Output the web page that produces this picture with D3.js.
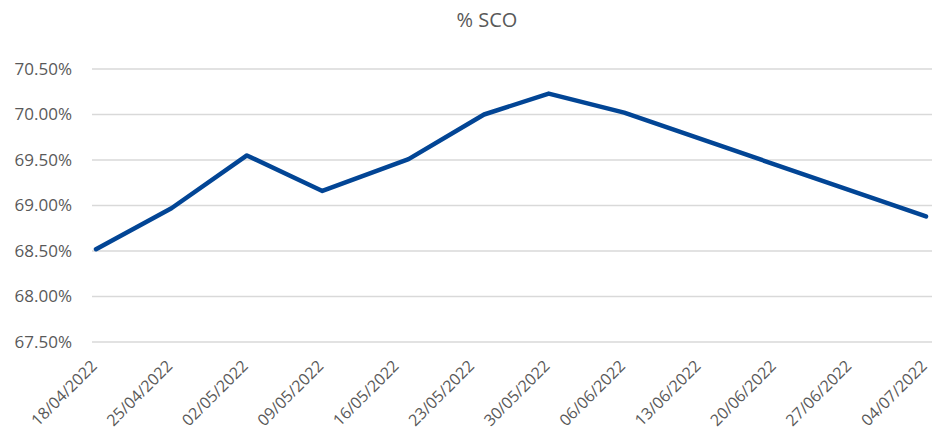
<!DOCTYPE html>
<html>
<head>
<meta charset="utf-8">
<script src="https://cdn.jsdelivr.net/npm/d3@7"></script>
<style>
  body { margin: 0; background: #fff; }
  text { font-family: "Open Sans", sans-serif; fill: #595959; }
</style>
</head>
<body>
<svg class="chart-svg"></svg>
<script>
// data (line has kinks on these dates)
const dates = ['18/04/2022', '25/04/2022', '02/05/2022', '09/05/2022', '17/05/2022',
  '24/05/2022', '30/05/2022', '06/06/2022', '04/07/2022'];
const sco = [68.52, 68.97, 69.55, 69.16, 69.51, 70.00, 70.23, 70.02, 68.88];

// axis labels
const tickDates = ['18/04/2022', '25/04/2022', '02/05/2022', '09/05/2022', '16/05/2022',
  '23/05/2022', '30/05/2022', '06/06/2022', '13/06/2022', '20/06/2022', '27/06/2022', '04/07/2022'];
const yTicks = [67.5, 68, 68.5, 69, 69.5, 70, 70.5];

const width = 932, height = 441;
const parse = d3.timeParse('%d/%m/%Y');
const fmt = d3.timeFormat('%d/%m/%Y');

const svg = d3.select('.chart-svg')
  .attr('width', width)
  .attr('height', height);

const x = d3.scaleTime()
  .domain([parse(tickDates[0]), parse(tickDates[tickDates.length - 1])])
  .range([96, 926]);

const y = d3.scaleLinear()
  .domain([67.5, 70.5])
  .range([342, 69]);

// title
svg.append('text')
  .attr('x', 487)
  .attr('y', 27)
  .attr('text-anchor', 'middle')
  .style('font-size', '20px')
  .text('% SCO');

// gridlines
svg.append('g')
  .selectAll('line')
  .data(yTicks)
  .enter()
  .append('line')
  .attr('x1', 92)
  .attr('x2', width)
  .attr('y1', d => y(d))
  .attr('y2', d => y(d))
  .attr('stroke', '#d9d9d9')
  .attr('stroke-width', 1.5);

// y labels
svg.append('g')
  .selectAll('text')
  .data(yTicks)
  .enter()
  .append('text')
  .attr('x', 72)
  .attr('y', d => y(d))
  .attr('dy', '.35em')
  .attr('text-anchor', 'end')
  .style('font-size', '17px')
  .text(d => d.toFixed(2) + '%');

// x labels, rotated
svg.append('g')
  .selectAll('text')
  .data(tickDates.map(parse))
  .enter()
  .append('text')
  .attr('text-anchor', 'end')
  .attr('transform', d => 'translate(' + (x(d) + 2) + ',367) rotate(-45)')
  .style('font-size', '16px')
  .text(d => fmt(d));

// the line
const line = d3.line()
  .x(d => x(d.date))
  .y(d => y(d.value));

svg.append('path')
  .datum(dates.map((d, i) => ({ date: parse(d), value: sco[i] })))
  .attr('fill', 'none')
  .attr('stroke', '#024595')
  .attr('stroke-width', 4.5)
  .attr('stroke-linejoin', 'round')
  .attr('stroke-linecap', 'round')
  .attr('d', line);
</script>
</body>
</html>
